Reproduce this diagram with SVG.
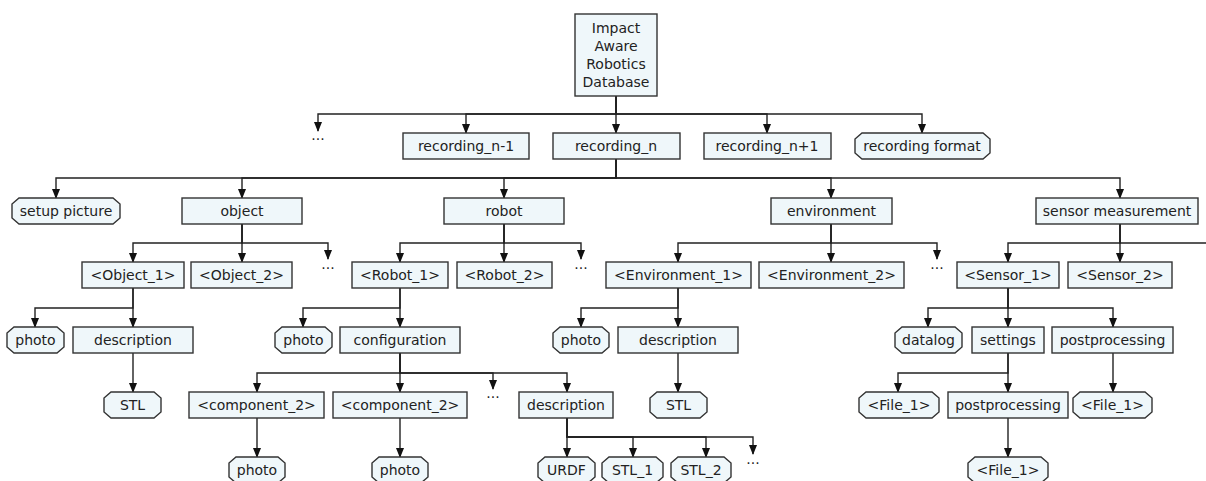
<svg xmlns="http://www.w3.org/2000/svg" width="1206" height="481" viewBox="0 0 1206 481">
<style>
.box{fill:#eff7fa;stroke:#333;stroke-width:1.4}
.t{font-family:"DejaVu Sans",Verdana,sans-serif;font-size:14px;fill:#222;text-anchor:middle}
.c path{fill:none;stroke:#222;stroke-width:1.4}
.c path.a{marker-end:url(#ah)}
</style>
<defs>
<marker id="ah" markerUnits="userSpaceOnUse" markerWidth="8" markerHeight="10" refX="4" refY="9" orient="0" viewBox="0 0 8 10">
<path d="M0,0 L8,0 L4,10 z" fill="#111"/>
</marker>
</defs>
<rect width="1206" height="481" fill="#fff"/>
<g class="c" id="connectors">
<path class="a" d="M616,96 V114 H318 V131"/>
<path class="a" d="M616,96 V114 H466 V133"/>
<path class="a" d="M616,96 V133"/>
<path class="a" d="M616,96 V114 H767 V133"/>
<path class="a" d="M616,96 V114 H922 V133"/>
<path class="a" d="M616,159 V178 H56 V198"/>
<path class="a" d="M616,159 V178 H242 V198"/>
<path class="a" d="M616,159 V178 H504 V198"/>
<path class="a" d="M616,159 V178 H831 V198"/>
<path class="a" d="M616,159 V178 H1120 V198"/>
<path class="a" d="M242,224 V243 H133 V262"/>
<path class="a" d="M242,224 V262"/>
<path class="a" d="M242,224 V243 H328 V259"/>
<path class="a" d="M504,224 V243 H400 V262"/>
<path class="a" d="M504,224 V262"/>
<path class="a" d="M504,224 V243 H581 V259"/>
<path class="a" d="M831,224 V243 H678 V262"/>
<path class="a" d="M831,224 V262"/>
<path class="a" d="M831,224 V243 H937 V259"/>
<path class="a" d="M1120,224 V243 H1008 V262"/>
<path class="a" d="M1120,224 V262"/>
<path class="a" d="M1120,224 V243 H1212 V259"/>
<path class="a" d="M133,288 V308 H35 V327"/>
<path class="a" d="M133,288 V327"/>
<path class="a" d="M400,288 V308 H303 V327"/>
<path class="a" d="M400,288 V327"/>
<path class="a" d="M678,288 V308 H581 V327"/>
<path class="a" d="M678,288 V327"/>
<path class="a" d="M1008,288 V308 H928 V327"/>
<path class="a" d="M1008,288 V327"/>
<path class="a" d="M1008,288 V308 H1113 V327"/>
<path class="a" d="M133,353 V392"/>
<path class="a" d="M400,353 V373 H257 V392"/>
<path class="a" d="M400,353 V392"/>
<path class="a" d="M400,353 V373 H493 V389"/>
<path class="a" d="M400,353 V373 H567 V392"/>
<path class="a" d="M678,353 V392"/>
<path class="a" d="M1008,353 V373 H898 V392"/>
<path class="a" d="M1008,353 V392"/>
<path class="a" d="M1113,353 V392"/>
<path class="a" d="M257,418 V457"/>
<path class="a" d="M400,418 V457"/>
<path class="a" d="M567,418 V457"/>
<path class="a" d="M567,418 V437 H633 V457"/>
<path class="a" d="M567,418 V437 H706 V457"/>
<path class="a" d="M567,418 V437 H753 V454"/>
<path class="a" d="M1008,418 V457"/>
</g>
<g id="dots">
<text class="t" x="318" y="140">...</text>
<text class="t" x="328" y="269">...</text>
<text class="t" x="581" y="269">...</text>
<text class="t" x="937" y="269">...</text>
<text class="t" x="1212" y="269">...</text>
<text class="t" x="493" y="398">...</text>
<text class="t" x="753" y="464">...</text>
</g>
<g id="root"><rect class="box" x="575" y="14" width="82" height="82"/>
<text class="t" x="616" y="33">Impact</text><text class="t" x="616" y="51">Aware</text><text class="t" x="616" y="69">Robotics</text><text class="t" x="616" y="87">Database</text></g>
<g id="rec_nm1"><rect class="box" x="403" y="133" width="126" height="26"/><text class="t" x="466" y="151">recording_n-1</text></g>
<g id="rec_n"><rect class="box" x="553" y="133" width="127" height="26"/><text class="t" x="616" y="151">recording_n</text></g>
<g id="rec_np1"><rect class="box" x="704" y="133" width="127" height="26"/><text class="t" x="767" y="151">recording_n+1</text></g>
<g id="rec_fmt"><polygon class="box" points="862,133 983,133 990,139 990,153 983,159 862,159 855,153 855,139"/><text class="t" x="922" y="151">recording format</text></g>
<g id="setup"><polygon class="box" points="19,198 113,198 120,204 120,218 113,224 19,224 12,218 12,204"/><text class="t" x="66" y="216">setup picture</text></g>
<g id="object"><rect class="box" x="182" y="198" width="120" height="26"/><text class="t" x="242" y="216">object</text></g>
<g id="robot"><rect class="box" x="444" y="198" width="120" height="26"/><text class="t" x="504" y="216">robot</text></g>
<g id="environment"><rect class="box" x="771" y="198" width="121" height="26"/><text class="t" x="831.5" y="216">environment</text></g>
<g id="sensor"><rect class="box" x="1036" y="198" width="162" height="26"/><text class="t" x="1117" y="216">sensor measurement</text></g>
<g id="obj1"><rect class="box" x="82" y="262" width="102" height="26"/><text class="t" x="133" y="280">&lt;Object_1&gt;</text></g>
<g id="obj2"><rect class="box" x="191" y="262" width="101" height="26"/><text class="t" x="241.5" y="280">&lt;Object_2&gt;</text></g>
<g id="rob1"><rect class="box" x="352" y="262" width="96" height="26"/><text class="t" x="400" y="280">&lt;Robot_1&gt;</text></g>
<g id="rob2"><rect class="box" x="457" y="262" width="95" height="26"/><text class="t" x="504.5" y="280">&lt;Robot_2&gt;</text></g>
<g id="env1"><rect class="box" x="606" y="262" width="145" height="26"/><text class="t" x="678.5" y="280">&lt;Environment_1&gt;</text></g>
<g id="env2"><rect class="box" x="759" y="262" width="145" height="26"/><text class="t" x="831.5" y="280">&lt;Environment_2&gt;</text></g>
<g id="sen1"><rect class="box" x="957" y="262" width="102" height="26"/><text class="t" x="1008" y="280">&lt;Sensor_1&gt;</text></g>
<g id="sen2"><rect class="box" x="1068" y="262" width="104" height="26"/><text class="t" x="1120" y="280">&lt;Sensor_2&gt;</text></g>
<g id="obj_photo"><polygon class="box" points="14,327 57,327 64,333 64,347 57,353 14,353 7,347 7,333"/><text class="t" x="35.5" y="345">photo</text></g>
<g id="obj_desc"><rect class="box" x="73" y="327" width="120" height="26"/><text class="t" x="133" y="345">description</text></g>
<g id="rob_photo"><polygon class="box" points="282,327 325,327 332,333 332,347 325,353 282,353 275,347 275,333"/><text class="t" x="303.5" y="345">photo</text></g>
<g id="config"><rect class="box" x="340" y="327" width="120" height="26"/><text class="t" x="400" y="345">configuration</text></g>
<g id="env_photo"><polygon class="box" points="560,327 602,327 609,333 609,347 602,353 560,353 553,347 553,333"/><text class="t" x="581" y="345">photo</text></g>
<g id="env_desc"><rect class="box" x="618" y="327" width="120" height="26"/><text class="t" x="678" y="345">description</text></g>
<g id="datalog"><polygon class="box" points="902,327 955,327 962,333 962,347 955,353 902,353 895,347 895,333"/><text class="t" x="928.5" y="345">datalog</text></g>
<g id="settings"><rect class="box" x="972" y="327" width="72" height="26"/><text class="t" x="1008" y="345">settings</text></g>
<g id="postproc"><rect class="box" x="1052" y="327" width="121" height="26"/><text class="t" x="1112.5" y="345">postprocessing</text></g>
<g id="obj_stl"><polygon class="box" points="111,392 154,392 161,398 161,412 154,418 111,418 104,412 104,398"/><text class="t" x="132.5" y="410">STL</text></g>
<g id="comp_a"><rect class="box" x="189" y="392" width="135" height="26"/><text class="t" x="256.5" y="410">&lt;component_2&gt;</text></g>
<g id="comp_b"><rect class="box" x="333" y="392" width="134" height="26"/><text class="t" x="400" y="410">&lt;component_2&gt;</text></g>
<g id="rob_desc"><rect class="box" x="519" y="392" width="94" height="26"/><text class="t" x="566" y="410">description</text></g>
<g id="env_stl"><polygon class="box" points="657,392 700,392 707,398 707,412 700,418 657,418 650,412 650,398"/><text class="t" x="678.5" y="410">STL</text></g>
<g id="file_a"><polygon class="box" points="866,392 932,392 939,398 939,412 932,418 866,418 859,412 859,398"/><text class="t" x="899" y="410">&lt;File_1&gt;</text></g>
<g id="postproc2"><rect class="box" x="948" y="392" width="120" height="26"/><text class="t" x="1008" y="410">postprocessing</text></g>
<g id="file_b"><polygon class="box" points="1080,392 1145,392 1152,398 1152,412 1145,418 1080,418 1073,412 1073,398"/><text class="t" x="1112.5" y="410">&lt;File_1&gt;</text></g>
<g id="photo_a"><polygon class="box" points="236,457 278,457 285,463 285,477 278,483 236,483 229,477 229,463"/><text class="t" x="257" y="475">photo</text></g>
<g id="photo_b"><polygon class="box" points="379,457 421,457 428,463 428,477 421,483 379,483 372,477 372,463"/><text class="t" x="400" y="475">photo</text></g>
<g id="urdf"><polygon class="box" points="545,457 588,457 595,463 595,477 588,483 545,483 538,477 538,463"/><text class="t" x="566.5" y="475">URDF</text></g>
<g id="stl1"><polygon class="box" points="609,457 656,457 663,463 663,477 656,483 609,483 602,477 602,463"/><text class="t" x="632.5" y="475">STL_1</text></g>
<g id="stl2"><polygon class="box" points="678,457 724,457 731,463 731,477 724,483 678,483 671,477 671,463"/><text class="t" x="701" y="475">STL_2</text></g>
<g id="file_c"><polygon class="box" points="975,457 1041,457 1048,463 1048,477 1041,483 975,483 968,477 968,463"/><text class="t" x="1008" y="475">&lt;File_1&gt;</text></g>
</svg>
